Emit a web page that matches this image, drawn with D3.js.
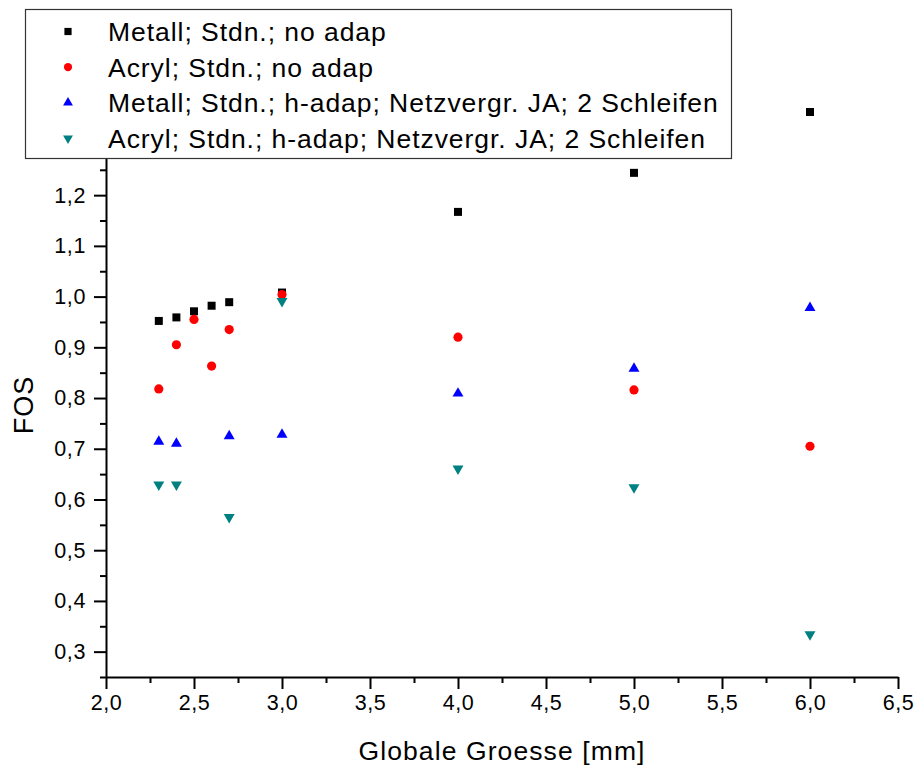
<!DOCTYPE html>
<html>
<head>
<meta charset="utf-8">
<script src="https://cdn.jsdelivr.net/npm/d3@7/dist/d3.min.js"></script>
<style>
  html, body { margin: 0; padding: 0; background: #fff; }
  svg { display: block; font-family: Arial, "Liberation Sans", sans-serif; }
</style>
</head>
<body>
<svg id="chart" width="919" height="769"></svg>
<script>
// data
var seriesNames = [
  'Metall; Stdn.; no adap',
  'Acryl; Stdn.; no adap',
  'Metall; Stdn.; h-adap; Netzvergr. JA; 2 Schleifen',
  'Acryl; Stdn.; h-adap; Netzvergr. JA; 2 Schleifen'
];
var metallNoX = [2.3, 2.4, 2.5, 2.6, 2.7, 3.0, 4.0, 5.0, 6.0];
var metallNoY = [0.952, 0.959, 0.971, 0.982, 0.989, 1.008, 1.167, 1.244, 1.364];
var acrylNoX = [2.3, 2.4, 2.5, 2.6, 2.7, 3.0, 4.0, 5.0, 6.0];
var acrylNoY = [0.818, 0.905, 0.955, 0.863, 0.935, 1.004, 0.920, 0.816, 0.705];
var metallHX = [2.3, 2.4, 2.7, 3.0, 4.0, 5.0, 6.0];
var metallHY = [0.716, 0.712, 0.727, 0.730, 0.811, 0.860, 0.980];
var acrylHX = [2.3, 2.4, 2.7, 3.0, 4.0, 5.0, 6.0];
var acrylHY = [0.627, 0.627, 0.563, 0.989, 0.659, 0.622, 0.332];
var xTicks = [2.0, 2.5, 3.0, 3.5, 4.0, 4.5, 5.0, 5.5, 6.0, 6.5];
var yTicks = [0.3, 0.4, 0.5, 0.6, 0.7, 0.8, 0.9, 1.0, 1.1, 1.2, 1.3, 1.4];

var colors = ['#000000', '#ff0000', '#0000ff', '#008080'];
var shapes = ['square', 'circle', 'up', 'down'];

var svg = d3.select('#chart');
var x = d3.scaleLinear().domain([2.0, 6.5]).range([106, 898]);
var y = d3.scaleLinear().domain([0.25, 1.5]).range([677, 43]);

var loc = d3.formatLocale({ decimal: ',', thousands: '.', grouping: [3], currency: ['', '']});
var fmt = loc.format('.1f');

function minorVals(ticks, step) {
  var out = [];
  for (var i = 0; i < ticks.length; i++) out.push(+(ticks[i] + step / 2).toFixed(3));
  out.unshift(+(ticks[0] - step / 2).toFixed(3));
  return out;
}

// minor ticks
var xMinor = minorVals(xTicks, 0.5).filter(function(v){ return v > 2.0 && v < 6.5; });
svg.append('g').attr('transform', 'translate(0,677)')
  .call(d3.axisBottom(x).tickValues(xMinor).tickSize(6).tickFormat('').tickSizeOuter(0))
  .call(function(g){ g.select('.domain').remove(); });
var yMinor = minorVals(yTicks, 0.1).filter(function(v){ return v >= 0.25 && v < 1.5; });
svg.append('g').attr('transform', 'translate(106,0)')
  .call(d3.axisLeft(y).tickValues(yMinor).tickSize(6).tickFormat('').tickSizeOuter(0))
  .call(function(g){ g.select('.domain').remove(); });

// major axes
var gx = svg.append('g').attr('transform', 'translate(0,677)')
  .call(d3.axisBottom(x).tickValues(xTicks).tickSize(12).tickSizeOuter(0).tickPadding(6).tickFormat(fmt));
var gy = svg.append('g').attr('transform', 'translate(106,0)')
  .call(d3.axisLeft(y).tickValues(yTicks).tickSize(12).tickSizeOuter(0).tickPadding(8).tickFormat(fmt));

svg.selectAll('.tick line, .domain').attr('stroke', '#000').attr('stroke-width', 2);
svg.selectAll('.tick text').attr('font-size', 21.5).attr('fill', '#000')
  .attr('letter-spacing', 0.6)
  .attr('font-family', 'Arial, "Liberation Sans", sans-serif');

// axis titles
svg.append('text').attr('x', 502).attr('y', 760).attr('text-anchor', 'middle')
  .attr('font-size', 26.5).attr('letter-spacing', 1.1).text('Globale Groesse [mm]');
svg.append('text').attr('transform', 'translate(33,405) rotate(-90)').attr('text-anchor', 'middle')
  .attr('font-size', 27).attr('letter-spacing', 1).text('FOS');

function symbolPath(shape) {
  if (shape === 'square') return d3.symbol(d3.symbolSquare, 64)();
  if (shape === 'circle') return d3.symbol(d3.symbolCircle, 66)();
  return d3.symbol(d3.symbolTriangle, 52)();
}

var series = [
  { xs: metallNoX, ys: metallNoY },
  { xs: acrylNoX, ys: acrylNoY },
  { xs: metallHX, ys: metallHY },
  { xs: acrylHX, ys: acrylHY }
];

var plot = svg.append('g');
series.forEach(function(s, i){
  var pts = s.xs.map(function(v, j){ return [v, s.ys[j]]; });
  plot.selectAll('.m' + i).data(pts).enter().append('path')
    .attr('d', symbolPath(shapes[i]))
    .attr('fill', colors[i])
    .attr('transform', function(d){
      var t = 'translate(' + x(d[0]) + ',' + y(d[1]) + ')';
      if (shapes[i] === 'down') t += ' rotate(180)';
      if (shapes[i] === 'up' || shapes[i] === 'down') t += ' translate(0,1)';
      return t;
    });
});

// legend
var leg = svg.append('g');
leg.append('rect').attr('x', 25.5).attr('y', 9.5).attr('width', 706).attr('height', 149)
  .attr('fill', '#fff').attr('stroke', '#333').attr('stroke-width', 1.2);
seriesNames.forEach(function(name, i){
  var cy = 31.5 + i * 35.6;
  var t = 'translate(68,' + cy + ')';
  if (shapes[i] === 'down') t += ' rotate(180)';
  leg.append('path').attr('d', symbolPath(shapes[i])).attr('fill', colors[i])
    .attr('transform', t + ' scale(0.9)');
  leg.append('text').attr('x', 108).attr('y', cy + 9.5).attr('font-size', 26.5)
    .attr('letter-spacing', 0.95).attr('fill', '#000').text(name);
});
</script>
</body>
</html>
